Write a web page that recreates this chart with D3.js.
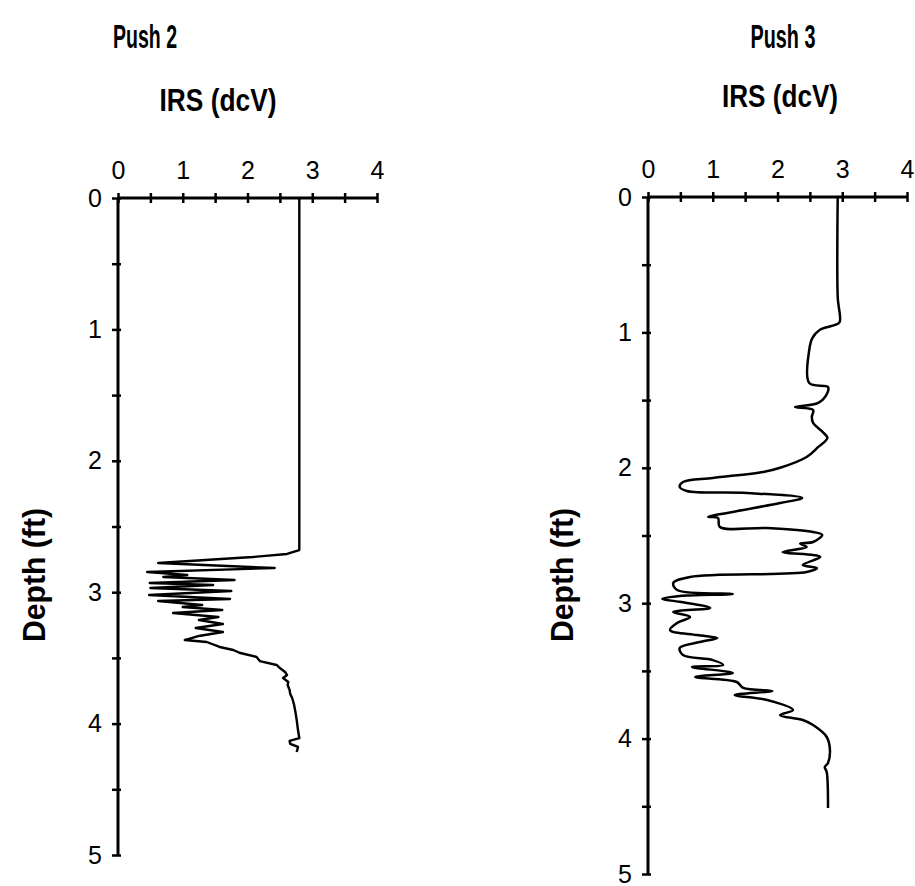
<!DOCTYPE html>
<html>
<head>
<meta charset="utf-8">
<title>IRS pushes</title>
<script src="https://d3js.org/d3.v7.min.js"></script>
<style>
  body { margin: 0; background: #fff; }
  text { font-family: "Liberation Sans", Arial, sans-serif; fill: #000; }
  .title { font-weight: bold; }
  .tick text { font-size: 25px; }
</style>
</head>
<body>
<script>

// tick labels
var irsTicks = [0, 1, 2, 3, 4];
var depthTicks = [0, 1, 2, 3, 4, 5];

// Push 2 : depth (ft) and IRS (dcV)
var push2Depth = [0, 2.679, 2.709, 2.732, 2.778, 2.816, 2.846, 2.869, 2.884, 2.907, 2.930, 2.945,
  2.968, 2.991, 3.021, 3.052, 3.067, 3.097, 3.113, 3.135, 3.158, 3.189, 3.212, 3.242, 3.272,
  3.303, 3.333, 3.364, 3.379, 3.417, 3.440, 3.463, 3.493, 3.524, 3.554, 3.577, 3.607, 3.630,
  3.653, 3.683, 3.706, 3.744, 3.775, 3.805, 3.858, 3.912, 3.973, 4.049, 4.110, 4.132, 4.155,
  4.178, 4.216];
var push2IRS = [2.80, 2.80, 2.61, 2.08, 0.62, 2.42, 0.45, 1.07, 0.70, 1.80, 0.49, 1.47,
  0.50, 1.75, 0.48, 1.73, 0.62, 1.30, 1.00, 1.61, 0.85, 1.55, 1.25, 1.62, 1.20,
  1.62, 1.25, 1.03, 1.37, 1.57, 1.78, 1.89, 2.14, 2.19, 2.45, 2.50, 2.58, 2.61,
  2.55, 2.63, 2.62, 2.65, 2.66, 2.69, 2.72, 2.74, 2.76, 2.78, 2.80, 2.65, 2.66,
  2.78, 2.76];

// Push 3 : depth (ft) and IRS (dcV)
var push3Depth = [0, 0.739, 0.923, 0.945, 0.982, 1.041, 1.130, 1.374, 1.403, 1.448, 1.521,
  1.551, 1.573, 1.625, 1.669, 1.736, 1.780, 1.846, 1.920, 2.000, 2.031, 2.075, 2.105, 2.142,
  2.171, 2.186, 2.223, 2.260, 2.326, 2.363, 2.370, 2.437, 2.445, 2.474, 2.496, 2.548, 2.560,
  2.585, 2.622, 2.644, 2.659, 2.718, 2.740, 2.770, 2.806, 2.851, 2.902, 2.932, 2.947, 2.969,
  2.990, 3.035, 3.065, 3.102, 3.146, 3.198, 3.235, 3.257, 3.287, 3.331, 3.383, 3.420, 3.456,
  3.471, 3.515, 3.545, 3.582, 3.626, 3.648, 3.678, 3.715, 3.789, 3.826, 3.863, 3.900, 3.988,
  4.084, 4.180, 4.210, 4.247, 4.513];
var push3IRS = [2.93, 2.93, 2.96, 2.89, 2.65, 2.54, 2.49, 2.49, 2.78, 2.77, 2.63,
  2.27, 2.55, 2.53, 2.55, 2.70, 2.77, 2.63, 2.45, 2.04, 1.78, 1.00, 0.54, 0.49,
  0.60, 1.53, 2.38, 2.04, 1.31, 0.93, 1.08, 1.11, 1.84, 2.55, 2.69, 2.55, 2.35,
  2.45, 2.08, 2.55, 2.66, 2.39, 2.61, 2.45, 0.65, 0.39, 0.45, 1.31, 0.49, 0.22,
  0.49, 0.96, 0.39, 0.65, 0.45, 0.34, 0.76, 1.07, 0.80, 0.49, 0.54, 1.00, 1.16,
  0.68, 1.31, 0.73, 1.37, 1.47, 1.92, 1.34, 1.84, 2.24, 2.04, 2.39, 2.55, 2.76,
  2.81, 2.78, 2.73, 2.76, 2.78];

var panels = [
  {title: "Push 2", depth: push2Depth, irs: push2IRS, left: 118, right: 377, top: 198, bottom: 855,
   titleX: 145, titleY: 48, titleW: 64, unitX: 218, unitY: 111, unitW: 117, depthX: 45, depthY: 575, smooth: false},
  {title: "Push 3", depth: push3Depth, irs: push3IRS, left: 648, right: 907, top: 197, bottom: 874,
   titleX: 783, titleY: 48, titleW: 65, unitX: 780, unitY: 107, unitW: 116, depthX: 573, depthY: 575, smooth: true}
];

var svg = d3.select("body").append("svg")
    .attr("width", 915)
    .attr("height", 886);

panels.forEach(function(p) {
  var x = d3.scaleLinear().domain([0, 4]).range([p.left, p.right]);
  var y = d3.scaleLinear().domain([0, 5]).range([p.top, p.bottom]);
  var g = svg.append("g");

  // titles
  g.append("text").attr("class", "title")
      .attr("x", p.titleX).attr("y", p.titleY)
      .attr("text-anchor", "middle")
      .attr("textLength", p.titleW).attr("lengthAdjust", "spacingAndGlyphs")
      .style("font-size", "34px")
      .text(p.title);
  g.append("text").attr("class", "title")
      .attr("x", p.unitX).attr("y", p.unitY)
      .attr("text-anchor", "middle")
      .attr("textLength", p.unitW).attr("lengthAdjust", "spacingAndGlyphs")
      .style("font-size", "32px")
      .text("IRS (dcV)");
  g.append("text").attr("class", "title")
      .attr("transform", "translate(" + p.depthX + "," + p.depthY + ") rotate(-90)")
      .attr("text-anchor", "middle")
      .attr("textLength", 134).attr("lengthAdjust", "spacingAndGlyphs")
      .style("font-size", "31px")
      .text("Depth (ft)");

  // x axis (top)
  var xAxis = g.append("g")
      .attr("transform", "translate(0," + p.top + ")")
      .call(d3.axisTop(x).tickValues(d3.range(0, 4.01, 0.5))
        .tickFormat(function(d) { return irsTicks.indexOf(d) >= 0 ? d : ""; }));
  xAxis.select(".domain").remove();
  xAxis.selectAll(".tick line").attr("y1", -5).attr("y2", 5)
      .attr("stroke", "#000").attr("stroke-width", 2.5);
  xAxis.selectAll(".tick text").attr("y", -19).attr("dy", 0).attr("font-size", null);
  xAxis.append("line").attr("x1", p.left).attr("x2", p.right)
      .attr("stroke", "#000").attr("stroke-width", 3);

  // y axis (left)
  var yAxis = g.append("g")
      .attr("transform", "translate(" + p.left + ",0)")
      .call(d3.axisLeft(y).tickValues(d3.range(0, 5.01, 0.5))
        .tickFormat(function(d) { return depthTicks.indexOf(d) >= 0 ? d : ""; }));
  yAxis.select(".domain").remove();
  yAxis.selectAll(".tick line").attr("x1", -6).attr("x2", 3)
      .attr("stroke", "#000").attr("stroke-width", 2.5);
  yAxis.selectAll(".tick text").attr("x", -16).attr("font-size", null);
  yAxis.append("line").attr("y1", p.top).attr("y2", p.bottom)
      .attr("stroke", "#000").attr("stroke-width", 3);

  // trace
  var pts = p.depth.map(function(d, i) { return [p.irs[i], d]; });
  var line = d3.line()
      .x(function(d) { return x(d[0]); })
      .y(function(d) { return y(d[1]); })
      .curve(p.smooth ? d3.curveCatmullRom.alpha(0.5) : d3.curveLinear);
  g.append("path").datum(pts)
      .attr("d", line)
      .attr("fill", "none")
      .attr("stroke", "#000")
      .attr("stroke-width", p.smooth ? 2.5 : 2.4)
      .attr("stroke-linejoin", "round");
});

</script>
</body>
</html>
